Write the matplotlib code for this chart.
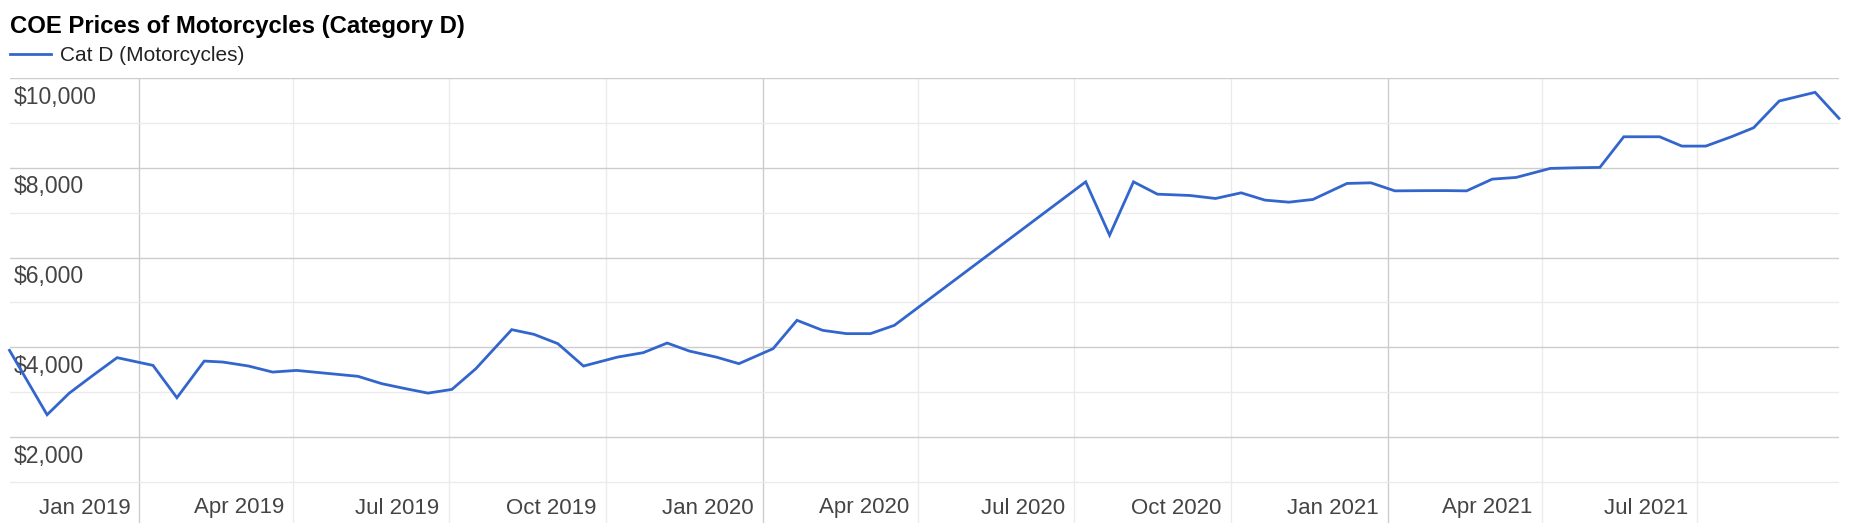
import matplotlib
matplotlib.use("Agg")
import matplotlib.pyplot as plt
import matplotlib.dates as mdates
import matplotlib.transforms as mtransforms
import numpy as np
import pandas as pd

plt.rcParams['font.family'] = ['Liberation Sans', 'DejaVu Sans']

# ---------------- data ----------------
title = "COE Prices of Motorcycles (Category D)"
series_name = "Cat D (Motorcycles)"

dates = [
    "2018-10-17", "2018-11-08", "2018-11-21", "2018-12-05", "2018-12-19",
    "2019-01-09", "2019-01-23", "2019-02-08", "2019-02-19", "2019-03-06",
    "2019-03-20", "2019-04-03", "2019-04-21", "2019-05-09", "2019-05-23",
    "2019-06-06", "2019-06-19", "2019-07-03", "2019-07-17", "2019-08-07",
    "2019-08-20", "2019-09-03", "2019-09-18", "2019-10-08", "2019-10-23",
    "2019-11-06", "2019-11-19", "2019-12-05", "2019-12-18", "2020-01-07",
    "2020-01-21", "2020-02-05", "2020-02-19", "2020-03-04", "2020-03-18",
    "2020-07-08", "2020-07-22", "2020-08-05", "2020-08-19", "2020-09-07",
    "2020-09-22", "2020-10-07", "2020-10-21", "2020-11-04", "2020-11-18",
    "2020-12-08", "2020-12-22", "2021-01-05", "2021-01-20", "2021-02-03",
    "2021-02-16", "2021-03-03", "2021-03-17", "2021-04-06", "2021-04-21",
    "2021-05-05", "2021-05-19", "2021-06-09", "2021-06-22", "2021-07-06",
    "2021-07-21", "2021-08-03", "2021-08-18", "2021-09-08", "2021-09-22",
]
prices = [
    3933, 2498, 2980, 3380, 3770,
    3598, 2877, 3694, 3672, 3583,
    3449, 3486, 3420, 3354, 3190,
    3078, 2980, 3063, 3524, 4394,
    4290, 4082, 3583, 3783, 3881,
    4096, 3917, 3780, 3636, 3970,
    4602, 4379, 4305, 4305, 4490,
    7687, 6498, 7687, 7412, 7383,
    7316, 7442, 7279, 7234, 7294,
    7651, 7665, 7486, 7490, 7492,
    7486, 7747, 7785, 7986, 8000,
    8008, 8691, 8691, 8483, 8483,
    8691, 8891, 9487, 9681, 9101,
]

y_major = [2000, 4000, 6000, 8000, 10000]
y_minor = [1000, 3000, 5000, 7000, 9000]
y_labels = ["$2,000", "$4,000", "$6,000", "$8,000", "$10,000"]

x_major = ["2019-01-01", "2020-01-01", "2021-01-01"]
x_minor = ["2019-04-01", "2019-07-01", "2019-10-01", "2020-04-01",
           "2020-07-01", "2020-10-01", "2021-04-01", "2021-07-01"]
x_ticks = ["2019-01-01", "2019-04-01", "2019-07-01", "2019-10-01",
           "2020-01-01", "2020-04-01", "2020-07-01", "2020-10-01",
           "2021-01-01", "2021-04-01", "2021-07-01"]
x_labels = ["Jan 2019", "Apr 2019", "Jul 2019", "Oct 2019", "Jan 2020",
            "Apr 2020", "Jul 2020", "Oct 2020", "Jan 2021", "Apr 2021",
            "Jul 2021"]

# ---------------- figure ----------------
W, H = 1852, 523
fig = plt.figure(figsize=(W / 100, H / 100), dpi=100)
fig.patch.set_facecolor("white")

left_px, right_px = 9.5, 1839.0
top_px, bottom_px = 78.0, 523.0
ax = fig.add_axes([left_px / W, 1 - bottom_px / H,
                   (right_px - left_px) / W, (bottom_px - top_px) / H])

d = pd.to_datetime(dates)
ax.plot(d, prices, color="#3366cc", lw=2.0, zorder=3,
        solid_joinstyle="miter", clip_on=False)

ax.set_xlim(d[0], d[-1])
px_per_unit = (482.0 - 78.0) / 9000.0
ax.set_ylim(10000 - (bottom_px - top_px) / px_per_unit, 10000)

ax.set_yticks(y_major)
ax.set_yticks(y_minor, minor=True)
ax.set_xticks(pd.to_datetime(x_major))
ax.set_xticks(pd.to_datetime(x_minor), minor=True)
ax.grid(which="major", color="#cccccc", lw=1.0, zorder=1)
ax.grid(which="minor", color="#ebebeb", lw=1.0, zorder=0)
ax.tick_params(which="both", length=0, labelbottom=False, labelleft=False)
for s in ax.spines.values():
    s.set_visible(False)

# y labels (drawn inside, just below their gridlines)
ytrans = mtransforms.offset_copy(
    mtransforms.blended_transform_factory(ax.transAxes, ax.transData),
    fig=fig, x=0, y=-19, units="dots")
for v, lab in zip(y_major, y_labels):
    ax.text((14 - left_px) / (right_px - left_px), v, lab, transform=ytrans,
            ha="left", va="center", fontsize=16.6, color="#444444", zorder=2)

# x labels (right aligned just left of their gridlines)
xtrans = mtransforms.offset_copy(
    mtransforms.blended_transform_factory(ax.transData, ax.transAxes),
    fig=fig, x=-9, y=0, units="dots")
yl = (bottom_px - 508.0) / (bottom_px - top_px)
for t, lab in zip(pd.to_datetime(x_ticks), x_labels):
    ax.text(t, yl, lab, transform=xtrans, ha="right", va="center",
            fontsize=16, color="#444444")

# title
fig.text(10 / W, 1 - 27 / H, title, ha="left", va="center",
         fontsize=17.2, fontweight="bold", color="#000000")

# legend
fig.legend(handles=ax.get_lines(), labels=[series_name], loc="center left",
           bbox_to_anchor=(10 / W, 1 - 55.5 / H), frameon=False,
           fontsize=15, handlelength=1.95, handletextpad=0.45,
           borderpad=0, borderaxespad=0, labelcolor="#222222")

fig.savefig("out.png", dpi=100, facecolor="white")
